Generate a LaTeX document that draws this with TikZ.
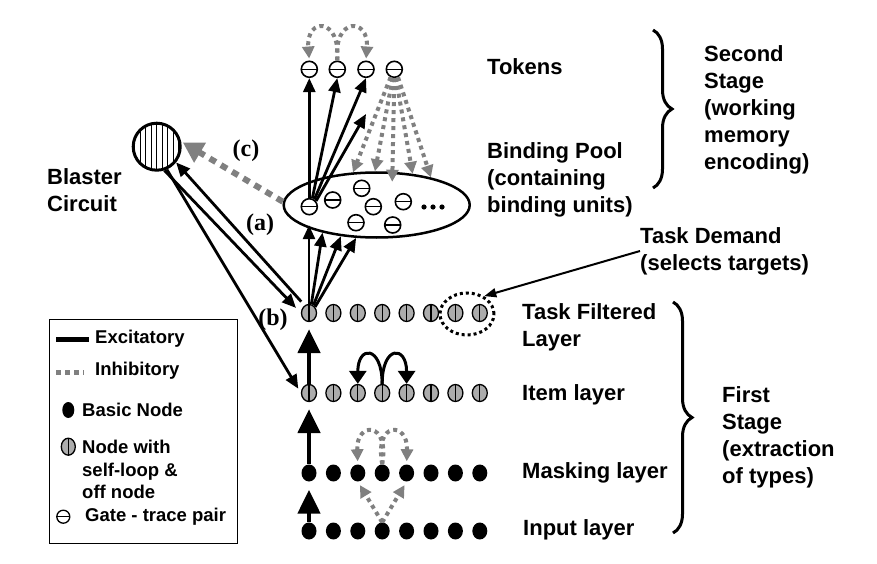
\documentclass[tikz,border=0pt]{standalone}
\usepackage{fontspec}
\setmainfont{Liberation Sans}
\newfontfamily\labfont{Liberation Serif}
\usetikzlibrary{arrows.meta,shapes.geometric,decorations.pathreplacing}

\tikzset{
  basic/.style={ellipse, fill=black, minimum width=15pt, minimum height=17pt, inner sep=0pt},
  selfnode/.style={ellipse, draw=black, line width=1.3pt, fill=gray!65, minimum width=15pt, minimum height=17pt, inner sep=0pt,
    path picture={\draw[line width=1.2pt] (path picture bounding box.north) -- (path picture bounding box.south);}},
  gate/.style={circle, draw=black, line width=1.6pt, fill=white, minimum size=16pt, inner sep=0pt,
    path picture={\draw[line width=1.5pt] (path picture bounding box.west) -- (path picture bounding box.east);}},
  excit/.style={line width=2.8pt, -{Triangle[length=14pt,width=12pt]}},
  bigexcit/.style={line width=4.7pt, -{Triangle[length=24pt,width=22pt]}},
  inhib/.style={draw=gray, line width=4pt, dash pattern=on 4pt off 4pt, -{Triangle[length=12pt,width=12pt]}},
  lbl/.style={font=\fontsize{22}{27}\selectfont\bfseries, align=left, anchor=west, inner sep=0pt},
  legtxt/.style={font=\fontsize{18.5}{22.5}\selectfont\bfseries, align=left, anchor=west, inner sep=0pt},
  lab/.style={font=\fontsize{24}{26}\selectfont\labfont\bfseries, inner sep=0pt},
  stage/.style={decorate, decoration={brace, amplitude=19pt}, line width=3pt},
}

\begin{document}
\begin{tikzpicture}[x=1pt, y=-1pt]
  \path[fill=white, use as bounding box] (0,0) rectangle (877,564);
  % 四层节点
  \foreach \i in {0,...,7} {
    \node[basic] (in\i) at ({309+24.4*\i},531) {};
    \node[basic] (mask\i) at ({309+24.4*\i},473) {};
    \node[selfnode] (item\i) at ({309+24.4*\i},393) {};
    \node[selfnode] (task\i) at ({309+24.4*\i},313) {};
  }
  % 任务选择
  \node[ellipse, draw, line width=3pt, dash pattern=on 3pt off 3pt, minimum width=54pt, minimum height=42pt] (sel) at (467,314) {};
  % 绑定池
  \node[ellipse, draw, line width=2.5pt, minimum width=186pt, minimum height=65pt] (pool) at (376.7,205) {};
  \node[gate] (g0) at (309.3,206.7) {};
  \node[gate] (g1) at (332.7,200) {};
  \node[gate] (g2) at (361.7,188.3) {};
  \node[gate] (g3) at (373.3,206.7) {};
  \node[gate] (g4) at (403.3,201.7) {};
  \node[gate] (g5) at (356,222.7) {};
  \node[gate] (g6) at (392.7,225) {};
  \foreach \x in {424,433,442} \fill (\x,207) circle (2.6pt);
  % 记号
  \foreach \i/\x in {0/309.3,1/337.3,2/366,3/394.3}
    \node[gate] (tok\i) at (\x,69.3) {};
  % Blaster
  \node[circle, draw, line width=3pt, minimum size=47pt, inner sep=0pt,
    path picture={\foreach \k in {-22,-16.5,...,22}
      \draw[line width=1pt] ([xshift=\k pt]path picture bounding box.north) -- ([xshift=\k pt]path picture bounding box.south);}]
    (blaster) at (156.7,146.7) {};

  % 层间箭头
  \draw[bigexcit, shorten >=8pt] (in0.north) -- (mask0.south);
  \draw[bigexcit, shorten >=7pt] (mask0.north) -- (item0.south);
  \draw[bigexcit, shorten >=7pt] (item0.north) -- (task0.south);
  % 层内连接
  \draw[line width=3pt, -{Triangle[length=13pt,width=17pt]}] (item3.north) .. controls (382,345) and (357.8,345) .. (item2.north);
  \draw[line width=3pt, -{Triangle[length=13pt,width=17pt]}] (item3.north) .. controls (382,345) and (406.6,345) .. (item4.north);
  \draw[inhib, shorten >=3pt] (mask3.north) .. controls (390,421) and (356,421) .. (mask2.north);
  \draw[inhib, shorten >=3pt] (mask3.north) .. controls (374,421) and (408,421) .. (mask4.north);
  \draw[inhib, shorten >=4pt] (in3.north) -- (mask2.south);
  \draw[inhib, shorten >=4pt] (in3.north) -- (mask4.south);
  % 任务层到绑定池
  \draw[excit] (task0.north) -- (task0.north |- pool.195);
  \draw[excit] (task0.75) -- (pool.207);
  \draw[excit] (task0.60) -- (pool.221);
  \draw[excit] (task0.45) -- (pool.238);
  % 绑定池到记号
  \coordinate (tk) at (366,114);
  \draw[excit] (g0.north) -- (tok0.south);
  \draw[excit] (g0.70) -- (tok1.south);
  \draw[excit] (g0.55) -- (tok2.south);
  \draw[excit] (g0.40) -- (tk);
  \draw[inhib] (tok3.-115) -- (pool.126);
  \draw[inhib] (tok3.-100) -- (pool.93);
  \draw[inhib] (tok3.-90) -- ([yshift=-10pt]pool.65);
  \draw[inhib] (tok3.-80) -- (pool.41);
  \draw[inhib] (tok3.-65) -- (pool.27);
  \draw[inhib, shorten >=2pt] (tok1.north) .. controls (341,17) and (306,17) .. (tok0.north);
  \draw[inhib, shorten >=2pt] (tok1.north) .. controls (333,17) and (369,17) .. (tok2.north);
  % Blaster 连接
  \draw[excit, shorten <=5pt] (task0.120) -- (blaster.-39);
  \draw[excit, shorten >=7pt] (blaster.-72) -- (task0.west);
  \draw[excit, shorten >=5pt] (blaster.-66) -- (item0.west);
  \draw[draw=gray, line width=6pt, dash pattern=on 7pt off 6pt, -{Triangle[length=20pt,width=22pt]}, shorten >=2pt] (pool.178) -- (blaster.12);
  \node[lab] (la) at (260,225) {(a)};
  \node[lab] (lb) at (273,320) {(b)};
  \node[lab] (lc) at (246,151) {(c)};

  % 文字
  \node[lbl] (tblast) at (47,190) {Blaster\\Circuit};
  \node[lbl] (ttok) at (487,67) {Tokens};
  \node[lbl] (tpool) at (487,180) {Binding Pool\\(containing\\binding units)};
  \node[lbl] (tsec) at (704,110) {Second\\Stage\\(working\\memory\\encoding)};
  \node[lbl] (demand) at (640,251) {Task Demand\\(selects targets)};
  \node[lbl] (ttask) at (522,327) {Task Filtered\\Layer};
  \node[lbl] (titem) at (522,395) {Item layer};
  \node[lbl] (tmask) at (522,473) {Masking layer};
  \node[lbl] (tin) at (523,530) {Input layer};
  \node[lbl] (tfirst) at (722,437) {First\\Stage\\(extraction\\of types)};
  \draw[line width=2pt, -{Triangle[length=12pt,width=9pt]}] (demand.west) -- (sel.46);
  % 括号
  \draw[stage] (653,30) -- (653,188);
  \draw[stage] (673,302) -- (673,533);

  % 图例
  \node[draw, line width=1pt, minimum width=188pt, minimum height=224pt, anchor=north west, inner sep=0pt] (legend) at (49,319) {};
  \draw[line width=5pt] (56,339) -- (89,339);
  \draw[gray, line width=5pt, dash pattern=on 5pt off 4pt] (56,372) -- (84,372);
  \node[basic, minimum width=12pt, minimum height=16pt] (lbasic) at (68.3,410) {};
  \node[selfnode, minimum width=14pt] (lself) at (68.3,446.7) {};
  \node[gate, minimum size=13pt, line width=1.3pt] (lgate) at (63.3,516.7) {};
  \node[legtxt] (lex) at (95,339) {Excitatory};
  \node[legtxt] (lin) at (95,371) {Inhibitory};
  \node[legtxt] (lbt) at (82,410) {Basic Node};
  \node[legtxt] (lst) at (82,469.5) {Node with\\self-loop \&\\off node};
  \node[legtxt] (lgt) at (85,516.7) {Gate - trace pair};
\end{tikzpicture}
\end{document}
